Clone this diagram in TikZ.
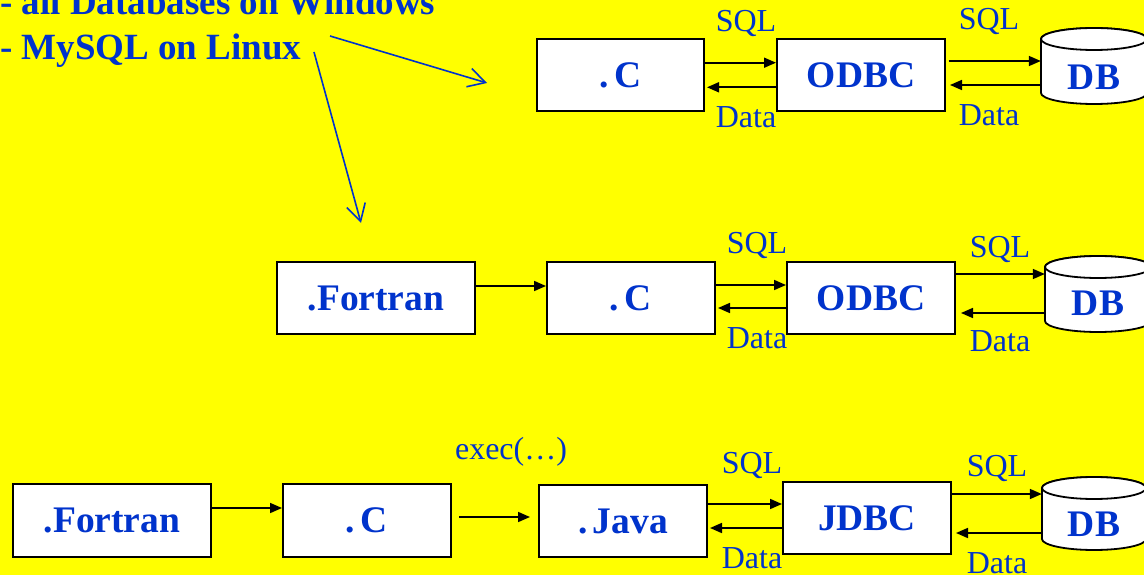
\documentclass[tikz,border=0pt]{standalone}
\usepackage{fontspec}
\setmainfont{Liberation Serif}
\usetikzlibrary{arrows.meta}
\definecolor{dblue}{RGB}{0,51,204}
\definecolor{bgyellow}{RGB}{255,255,0}
\tikzset{
  box/.style={draw=black, line width=2pt, fill=white, text=dblue,
    font=\bfseries\fontsize{37.5}{40}\selectfont, minimum height=72pt, inner sep=0pt},
  lbl/.style={text=dblue, font=\fontsize{32}{34}\selectfont, anchor=base, inner sep=0pt},
  hdr/.style={text=dblue, font=\bfseries\fontsize{37}{40}\selectfont, anchor=base west, inner sep=0pt},
  dbtext/.style={text=dblue, font=\bfseries\fontsize{37.5}{40}\selectfont, inner sep=0pt, minimum height=54pt},
  dbshape/.style={draw=black, line width=1.8pt, fill=white},
  arr/.style={line width=1.7pt, -{Triangle[length=12pt,width=10pt]}},
  barrow/.style={draw=dblue, line width=1.6pt, -{Straight Barb[length=17pt,width=19pt]}}
}
\begin{document}
\begin{tikzpicture}[x=1pt,y=-1pt]
\useasboundingbox (0,0) rectangle (1144,575);
\fill[bgyellow] (0,0) rectangle (1144,575);
\clip (0,0) rectangle (1144,575);

% header text
\node[hdr] (h1) at (0,15) {- all Databases on Windows};
\node[hdr] (h2) at (0,60) {- MySQL on Linux};
\coordinate (s1) at (330,36);
\coordinate (e1) at (487,83);
\coordinate (s2) at (314,52);
\coordinate (e2) at (361,223);
\draw[barrow] (s1) -- (e1);
\draw[barrow] (s2) -- (e2);

% cylinders
\path[dbshape] (1041,39) -- (1041,93) arc[start angle=180,end angle=360,x radius=53pt,y radius=11pt] -- (1147,39) arc[start angle=0,end angle=180,x radius=53pt,y radius=11pt] -- cycle;
\draw[dbshape] (1094,39) ellipse[x radius=53pt,y radius=11pt];
\path[dbshape] (1045,267) -- (1045,321) arc[start angle=180,end angle=360,x radius=53pt,y radius=11pt] -- (1151,267) arc[start angle=0,end angle=180,x radius=53pt,y radius=11pt] -- cycle;
\draw[dbshape] (1098,267) ellipse[x radius=53pt,y radius=11pt];
\path[dbshape] (1042,488) -- (1042,539) arc[start angle=180,end angle=360,x radius=52pt,y radius=11pt] -- (1146,488) arc[start angle=0,end angle=180,x radius=52pt,y radius=11pt] -- cycle;
\draw[dbshape] (1094,488) ellipse[x radius=52pt,y radius=11pt];

% top row
\node[box, minimum width=167pt] (c1) at (620.5,75) {.\kern0.15em C};
\node[box, minimum width=168pt] (odbc1) at (861,75) {ODBC};
\node[dbtext, minimum width=106pt] (db1) at (1094,77) {DB};
\node[lbl] (sqlA) at (746,31.5) {SQL};
\node[lbl] (dataA) at (746,128) {Data};
\node[lbl] (sqlB) at (989,30) {SQL};
\node[lbl] (dataB) at (989,126) {Data};
\draw[arr] (c1.east |- 0,62.7) -- (odbc1.west |- 0,62.7);
\draw[arr, shorten >=2pt] (odbc1.west |- 0,87.3) -- (c1.east |- 0,87.3);
\draw[arr, shorten <=2.5pt] (odbc1.east |- 0,61) -- (db1.west |- 0,61);
\draw[arr, shorten >=4pt] (db1.west |- 0,85) -- (odbc1.east |- 0,85);

% middle row
\node[box, minimum width=198pt] (fortran2) at (376,298) {.Fortran};
\node[box, minimum width=168pt] (c2) at (631,298) {.\kern0.15em C};
\node[box, minimum width=168pt] (odbc2) at (871,298) {ODBC};
\node[dbtext, minimum width=106pt] (db2) at (1098,303) {DB};
\node[lbl] (sqlC) at (757,253) {SQL};
\node[lbl] (dataC) at (757,348.5) {Data};
\node[lbl] (sqlD) at (1000,257) {SQL};
\node[lbl] (dataD) at (1000,351.5) {Data};
\draw[arr] (fortran2.east |- 0,286) -- (c2.west |- 0,286);
\draw[arr] (c2.east |- 0,285) -- (odbc2.west |- 0,285);
\draw[arr, shorten >=2pt] (odbc2.west |- 0,308) -- (c2.east |- 0,308);
\draw[arr] (odbc2.east |- 0,274) -- (db2.west |- 0,274);
\draw[arr, shorten >=5pt] (db2.west |- 0,313) -- (odbc2.east |- 0,313);

% bottom row
\node[box, minimum width=198pt, minimum height=73pt] (fortran3) at (112,520.5) {.Fortran};
\node[box, minimum width=168pt, minimum height=73pt] (c3) at (367,520.5) {.\kern0.15em C};
\node[box, minimum width=168pt] (java3) at (623,521) {.\kern0.15em Java};
\node[box, minimum width=168pt] (jdbc3) at (867,518) {JDBC};
\node[dbtext, minimum width=104pt] (db3) at (1094,524) {DB};
\node[lbl] (exec) at (511,459) {exec(\ldots)};
\node[lbl] (sqlE) at (752,473.3) {SQL};
\node[lbl] (dataE) at (752,568.3) {Data};
\node[lbl] (sqlF) at (997,476.7) {SQL};
\node[lbl] (dataF) at (997,573.3) {Data};
\draw[arr] (fortran3.east |- 0,508) -- (c3.west |- 0,508);
\draw[arr, shorten <=7pt, shorten >=8pt] (c3.east |- 0,517) -- (java3.west |- 0,517);
\draw[arr] (java3.east |- 0,504) -- (jdbc3.west |- 0,504);
\draw[arr, shorten >=2pt] (jdbc3.west |- 0,528) -- (java3.east |- 0,528);
\draw[arr] (jdbc3.east |- 0,494) -- (db3.west |- 0,494);
\draw[arr, shorten >=4pt] (db3.west |- 0,533) -- (jdbc3.east |- 0,533);
\end{tikzpicture}
\end{document}
